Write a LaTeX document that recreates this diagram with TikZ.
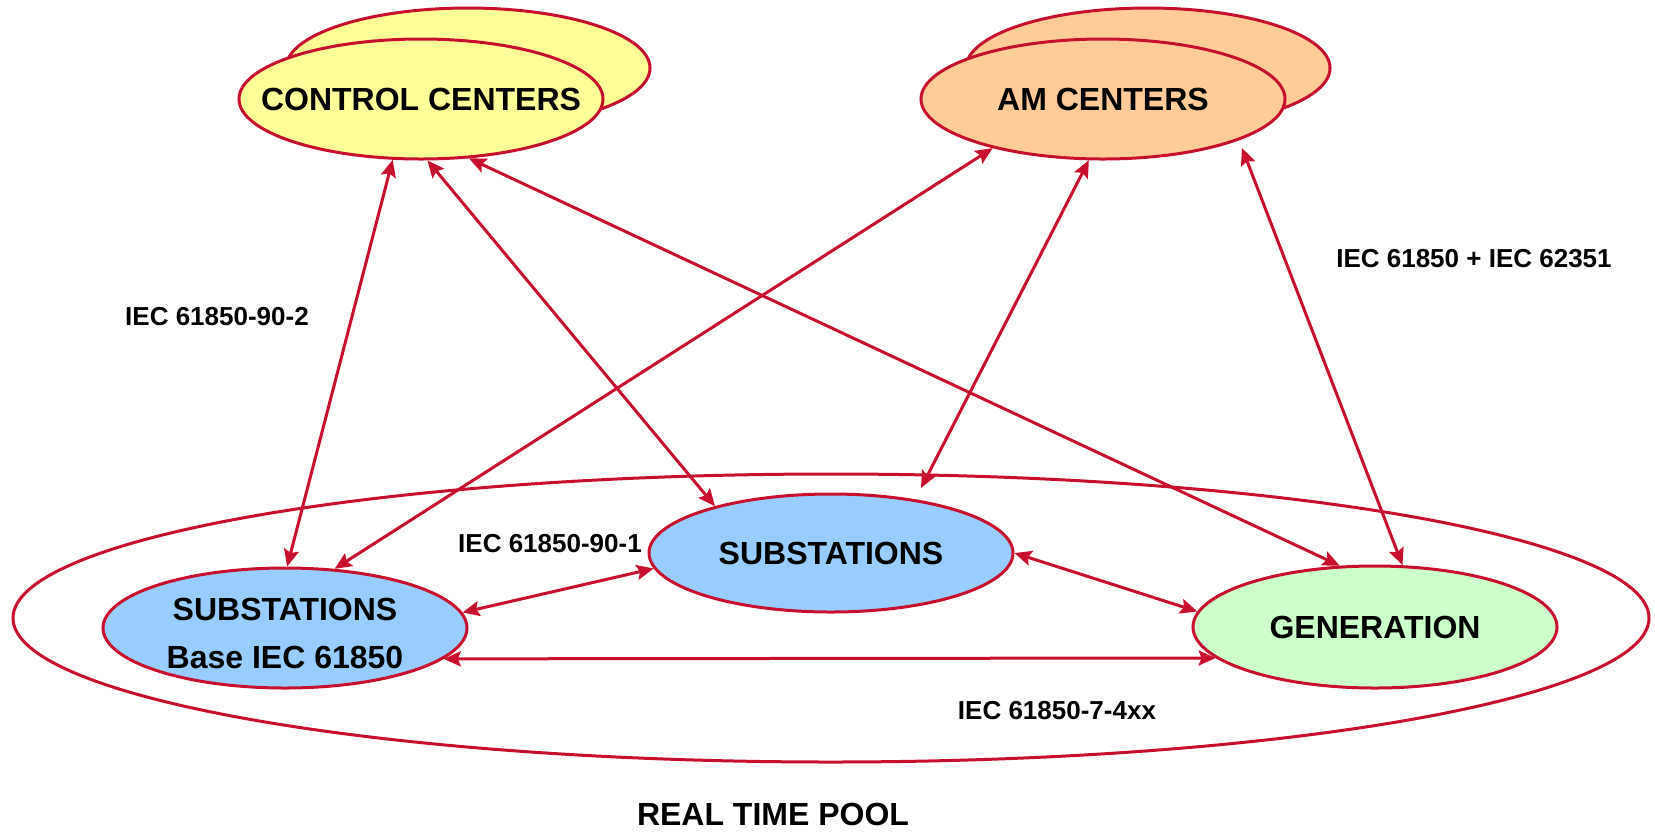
\documentclass[tikz,border=0pt]{standalone}
\usepackage{fontspec}
\setmainfont{Liberation Sans}
\usetikzlibrary{shapes.geometric,arrows.meta}
\definecolor{linkred}{RGB}{200,16,46}
\definecolor{ccyellow}{RGB}{255,255,153}
\definecolor{amorange}{RGB}{255,204,153}
\definecolor{subblue}{RGB}{153,204,255}
\definecolor{gengreen}{RGB}{204,255,204}
\tikzset{
  blob/.style={ellipse, draw=linkred, line width=1.5pt, inner sep=0pt,
    minimum width=182pt, minimum height=60pt},
  blobtext/.style={align=center, inner sep=0pt,
    font=\fontsize{16}{24}\selectfont\bfseries},
  link/.style={draw=linkred, line width=1.5pt,
    {Stealth[length=8.5pt,width=7.5pt,inset=1.5pt]}-{Stealth[length=8.5pt,width=7.5pt,inset=1.5pt]}},
  std/.style={font=\fontsize{13}{15}\selectfont\bfseries}
}
\begin{document}
\begin{tikzpicture}[x=0.5pt,y=-0.5pt]
\useasboundingbox (0,0) rectangle (1655,832);

% outer pool
\node[ellipse, draw=linkred, line width=1.5pt, inner sep=0pt,
  minimum width=818pt, minimum height=144pt] (pool) at (831,618) {};
\node[font=\fontsize{16}{19}\selectfont\bfseries] (pooltxt) at (773,814) {REAL TIME POOL};

% upper centres, each with a shadow copy behind it
\node[blob, fill=ccyellow] (ccback) at (468,68) {};
\node[blob, fill=ccyellow] (cc) at (421,99) {};
\node[blobtext] (cctxt) at (cc) {CONTROL CENTERS};
\node[blob, fill=amorange] (amback) at (1148,68) {};
\node[blob, fill=amorange] (am) at (1103,99) {};
\node[blobtext] (amtxt) at (am) {AM CENTERS};

% pool members
\node[blob, fill=subblue] (subbase) at (285,628) {};
\node[blobtext] (subbasetxt) at (285,633) {SUBSTATIONS\\Base IEC 61850};
\node[blob, fill=subblue, minimum height=59pt] (sub) at (831,553) {};
\node[blobtext] (subtxt) at (sub) {SUBSTATIONS};
\node[blob, fill=gengreen, minimum height=61pt] (gen) at (1375,627) {};
\node[blobtext] (gentxt) at (gen) {GENERATION};

% links
\draw[link] (cc.-115) -- (subbase.88);
\draw[link] (cc.-84) -- (sub.158);
\draw[link] (cc.-51) -- (gen.120);
\draw[link] (am.-156) -- (subbase.50);
\draw[link] (am.-103) -- ([shift={(90,-65)}]sub.center);
\draw[link] ([shift={(139,49)}]am.center) -- (gen.66);
\draw[link] (subbase.5) -- (sub.-175);
\draw[link] (sub.0) -- (gen.175);
\draw[link] (subbase.-11) -- (gen.-169);

% standard labels
\node[std] (l902) at (217,317) {IEC 61850-90-2};
\node[std] (lsec) at (1474,259) {IEC 61850 + IEC 62351};
\node[std] (l901) at (550,544) {IEC 61850-90-1};
\node[std] (l74) at (1057,711) {IEC 61850-7-4xx};
\end{tikzpicture}
\end{document}
